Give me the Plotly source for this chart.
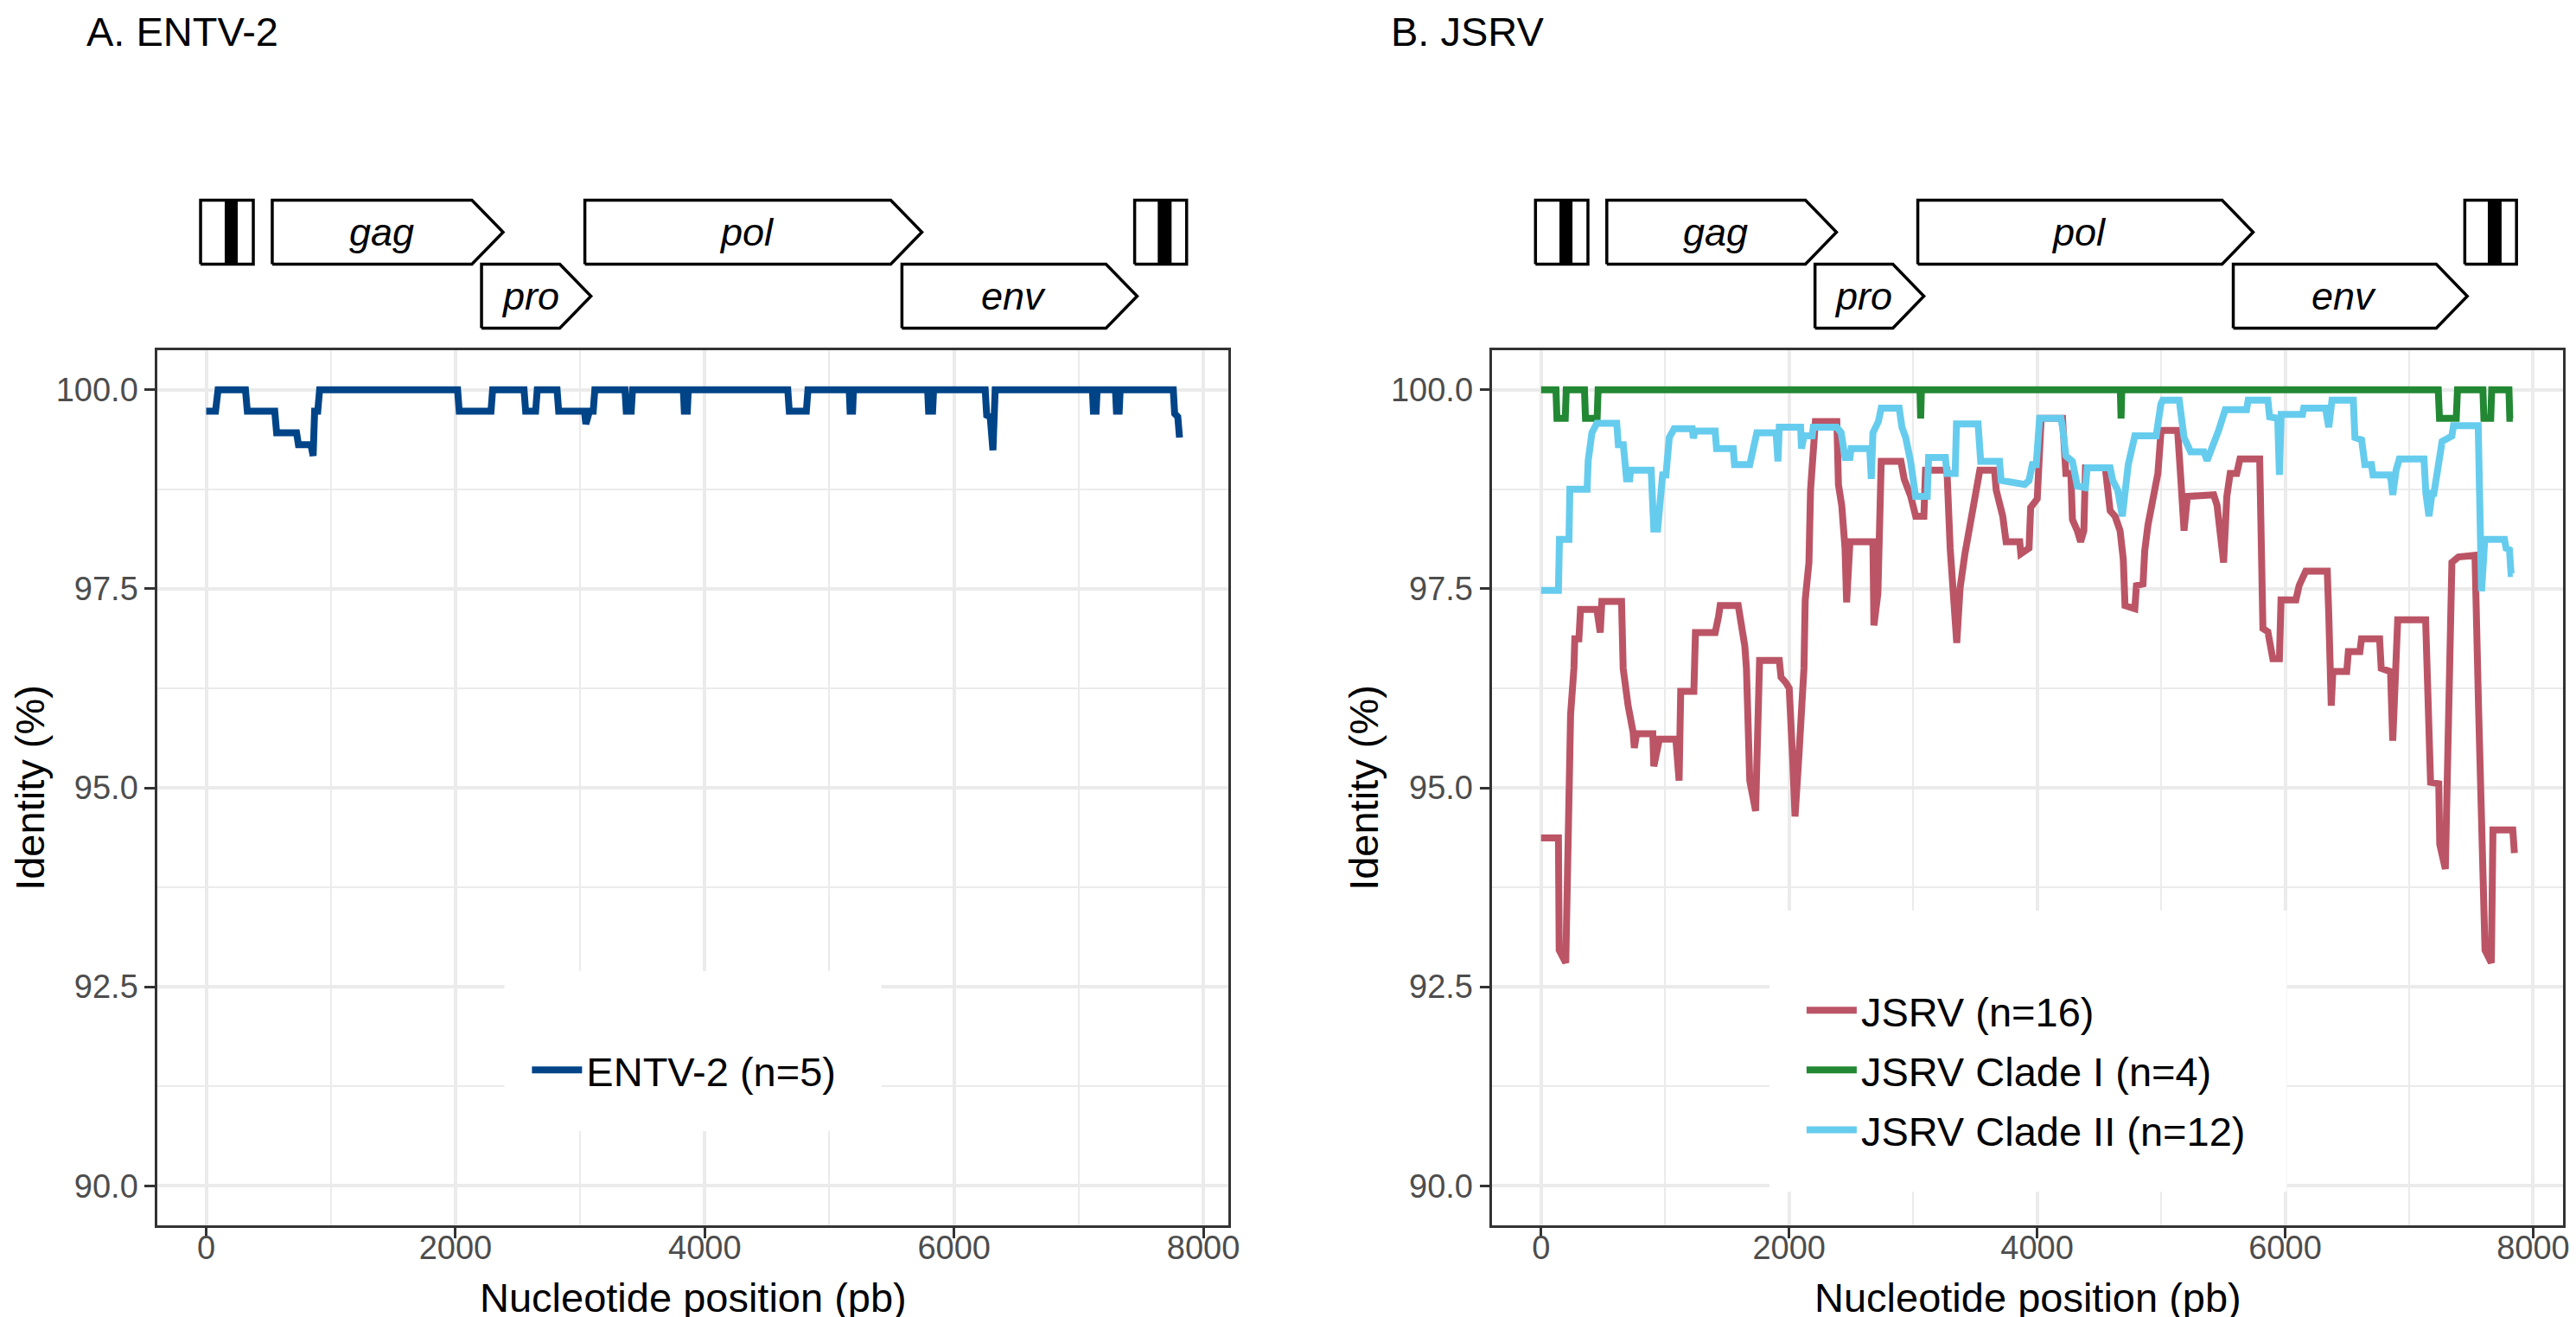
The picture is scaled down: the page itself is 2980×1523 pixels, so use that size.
import plotly.graph_objects as go

# ---- identity profiles (sliding window) ----
entv_x = [0, 75, 95, 315, 330, 550, 565, 725, 740, 840, 858, 870, 895, 910,
          2017, 2030, 2285, 2298, 2550, 2563, 2643, 2656, 2815, 2828, 3035, 3046,
          3075, 3105, 3118, 3360, 3370, 3410, 3420, 3828, 3836, 3860, 3868, 4666,
          4678, 4815, 4828, 5159, 5166, 5186, 5193, 5788, 5796, 5828, 5836, 6250,
          6262, 6290, 6312, 6330, 7110, 7118, 7140, 7148, 7295, 7303, 7325, 7333,
          7759, 7770, 7795, 7800, 7809]
entv_y = [99.73, 99.73, 100, 100, 99.73, 99.73, 99.46, 99.46, 99.31, 99.31, 99.17, 99.73, 99.73, 100,
          100, 99.73, 99.73, 100, 100, 99.73, 99.73, 100, 100, 99.73, 99.73, 99.57,
          99.73, 99.73, 100, 100, 99.73, 99.73, 100, 100, 99.73, 99.73, 100, 100,
          99.73, 99.73, 100, 100, 99.73, 99.73, 100, 100, 99.73, 99.73, 100, 100,
          99.68, 99.66, 99.24, 100, 100, 99.73, 99.73, 100, 100, 99.73, 99.73, 100,
          100, 99.70, 99.66, 99.42, 99.40]

jsrv_x = [0, 140, 146, 199, 220, 238, 265, 272, 305, 318, 450, 465, 477, 490, 649, 662,
          676, 702, 742, 752, 770, 901, 909, 941, 954, 1087, 1113, 1126, 1232, 1245,
          1404, 1431, 1444, 1590, 1603, 1643, 1656, 1683, 1730, 1750, 1762, 1921, 1935,
          1974, 2001, 2027, 2048, 2080, 2120, 2130, 2160, 2173, 2199, 2212, 2385, 2398,
          2425, 2451, 2464, 2480, 2491, 2676, 2684, 2716, 2743, 2902, 2928, 2981, 3021,
          3087, 3100, 3273, 3299, 3352, 3379, 3418, 3445, 3485, 3538, 3657, 3670, 3723,
          3750, 3860, 3869, 3935, 3948, 4001, 4020, 4033, 4205, 4215, 4232, 4272, 4285,
          4324, 4351, 4377, 4390, 4550, 4560, 4589, 4629, 4669, 4695, 4709, 4788, 4801,
          4854, 4868, 4894, 4974, 5000, 5133, 5159, 5185, 5212, 5424, 5451, 5480, 5504,
          5530, 5557, 5610, 5636, 5795, 5821, 5861, 5901, 5954, 5967, 6087, 6113, 6166,
          6340, 6352, 6372, 6385, 6497, 6510, 6603, 6616, 6762, 6775, 6850, 6868, 6885,
          6908, 7133, 7146, 7173, 7239, 7247, 7292, 7319, 7345, 7398, 7531, 7560, 7571,
          7590, 7612, 7663, 7676, 7836, 7849]
jsrv_y = [94.37, 94.37, 92.96, 92.80, 94.47, 95.92, 96.50, 96.87, 96.87, 97.24, 97.24, 96.95, 96.95, 97.34, 97.34, 96.50,
          96.32, 96.03, 95.70, 95.50, 95.68, 95.68, 95.27, 95.52, 95.61, 95.61, 95.09, 96.21, 96.21, 96.95,
          96.95, 97.15, 97.29, 97.29, 97.16, 96.78, 96.50, 95.09, 94.71, 96.00, 96.60, 96.60, 96.39,
          96.32, 96.25, 95.42, 94.64, 95.42, 96.50, 97.36, 97.83, 98.74, 99.46, 99.60, 99.60, 98.81,
          98.54, 98.01, 97.33, 98.00, 98.09, 98.09, 97.04, 97.44, 99.10, 99.10, 98.88, 98.66, 98.41,
          98.41, 98.99, 98.99, 98.01, 96.82, 97.51, 97.94, 98.19, 98.63, 98.99, 98.99, 98.74, 98.41,
          98.09, 98.09, 97.94, 98.01, 98.52, 98.63, 99.10, 99.64, 99.64, 99.46, 98.95, 98.95, 98.37,
          98.23, 98.09, 98.23, 99.02, 99.02, 98.88, 98.48, 98.41, 98.23, 97.87, 97.29, 97.25, 97.54,
          97.56, 97.98, 98.30, 98.95, 99.49, 99.49, 98.88, 98.23, 98.66, 98.68, 98.55, 98.20, 97.83,
          98.66, 98.95, 98.95, 99.13, 99.13, 97.00, 96.96, 96.62, 96.62, 97.36, 97.36, 97.54, 97.72,
          97.72, 97.18, 96.03, 96.46, 96.46, 96.71, 96.71, 96.87, 96.87, 96.50, 96.46, 95.59, 96.50,
          97.11, 97.11, 96.17, 95.07, 95.05, 94.29, 93.98, 96.00, 97.83, 97.90, 97.92, 96.00, 95.32,
          94.59, 92.96, 92.80, 94.47, 94.47, 94.18]

clade1_x = [0, 120, 128, 195, 203, 350, 358, 452, 460, 3055, 3061, 3067, 4671, 4677, 4683,
            7235, 7245, 7380, 7390, 7595, 7603, 7658, 7666, 7805, 7812, 7836]
clade1_y = [100, 100, 99.64, 99.64, 100, 100, 99.64, 99.64, 100, 100, 99.64, 100, 100, 99.64, 100,
            100, 99.64, 99.64, 100, 100, 99.64, 99.64, 100, 100, 99.64, 99.64]

clade2_x = [0, 140, 148, 225, 232, 371, 380, 410, 450, 610, 623, 663, 676, 689, 715, 722, 888,
            909, 940, 960, 980, 1007, 1034, 1073, 1219, 1228, 1240, 1404, 1415, 1550, 1560, 1683,
            1709, 1740, 1895, 1900, 1910, 1921, 2093, 2100, 2120, 2186, 2195, 2385, 2420, 2451,
            2491, 2500, 2650, 2663, 2676, 2720, 2743, 2888, 2910, 2940, 2980, 3020, 3114, 3125,
            3260, 3273, 3339, 3350, 3524, 3545, 3697, 3710, 3856, 3900, 3935, 3962, 3993, 4020,
            4192, 4205, 4232, 4285, 4324, 4390, 4404, 4589, 4610, 4650, 4687, 4709, 4735, 4788,
            4960, 4998, 5013, 5146, 5170, 5185, 5238, 5345, 5371, 5424, 5464, 5517, 5689, 5702,
            5861, 5875, 5940, 5954, 5968, 6140, 6150, 6325, 6340, 6352, 6378, 6550, 6563, 6617,
            6643, 6696, 6709, 6842, 6855, 6868, 6895, 6921, 7120, 7135, 7160, 7185, 7200, 7239,
            7266, 7345, 7358, 7557, 7584, 7610, 7769, 7782, 7809, 7822, 7836]
clade2_y = [97.48, 97.48, 98.12, 98.12, 98.75, 98.75, 99.11, 99.46, 99.58, 99.58, 99.31, 99.31, 99.10, 98.88, 98.88, 98.99, 98.99,
            98.25, 98.25, 98.60, 98.93, 98.93, 99.40, 99.51, 99.51, 99.39, 99.48, 99.48, 99.26, 99.26, 99.06, 99.06,
            99.21, 99.46, 99.46, 99.10, 99.10, 99.53, 99.53, 99.26, 99.42, 99.42, 99.53, 99.53, 99.46, 99.15,
            99.15, 99.26, 99.26, 98.88, 99.46, 99.60, 99.77, 99.77, 99.53, 99.40, 99.10, 98.66, 98.66, 99.15,
            99.15, 98.95, 98.95, 99.57, 99.57, 99.10, 99.10, 98.86, 98.83, 98.81, 98.86, 99.06, 99.06, 99.64,
            99.64, 99.53, 99.17, 99.10, 98.79, 98.77, 99.02, 99.02, 98.86, 98.74, 98.41, 98.77, 99.06, 99.42,
            99.42, 99.82, 99.87, 99.87, 99.51, 99.40, 99.22, 99.22, 99.11, 99.31, 99.49, 99.75, 99.75, 99.87,
            99.87, 99.66, 99.64, 98.93, 99.69, 99.69, 99.77, 99.77, 99.53, 99.53, 99.87, 99.87, 99.40, 99.37,
            99.06, 99.06, 98.93, 98.93, 98.86, 98.68, 98.99, 99.13, 99.13, 98.70, 98.41, 98.70, 98.70, 99.06,
            99.35, 99.42, 99.55, 99.55, 97.47, 98.12, 98.12, 98.01, 97.99, 97.69, 97.69]

# ---- genome map (bp) ----
gene_names = ["gag", "pro", "pol", "env"]
gene_start = [530, 2209, 3038, 5582]
gene_end = [2382, 3087, 5742, 7469]
gene_row = [2, 1, 2, 1]
ltr_start = [-45, 7449]
ltr_end = [378, 7866]
ltr_r_start = [152, 7638]
ltr_r_end = [250, 7742]
ARROW_LEN = 250

W, H = 2980, 1523
FONT = "Liberation Sans, Arial, sans-serif"
BIG = 47


def px(p):
    return p / W


def py(p):
    return 1 - p / H


def padded(xs):
    lo, hi = min(xs), max(xs)
    pad = 0.05 * (hi - lo)
    return [lo - pad, hi + pad]


def gene_map_traces(xa, ya):
    ox, oy, rx, ry = [], [], [], []
    for s, e, r in zip(gene_start, gene_end, gene_row):
        ox += [s, e - ARROW_LEN, e, e - ARROW_LEN, s, s, None]
        oy += [r - 0.5, r - 0.5, r, r + 0.5, r + 0.5, r - 0.5, None]
    for s, e, rs, re in zip(ltr_start, ltr_end, ltr_r_start, ltr_r_end):
        ox += [s, e, e, s, s, None]
        oy += [1.5, 1.5, 2.5, 2.5, 1.5, None]
        rx += [rs, re, re, rs, rs, None]
        ry += [1.5, 1.5, 2.5, 2.5, 1.5, None]
    outline = go.Scatter(x=ox, y=oy, mode="lines", fill="toself", fillcolor="white",
                         line=dict(color="black", width=3.5), xaxis=xa, yaxis=ya,
                         showlegend=False, hoverinfo="skip")
    rbar = go.Scatter(x=rx, y=ry, mode="lines", fill="toself", fillcolor="black",
                      line=dict(color="black", width=1), xaxis=xa, yaxis=ya,
                      showlegend=False, hoverinfo="skip")
    return [outline, rbar]


fig = go.Figure()

fig.add_trace(go.Scatter(x=entv_x, y=entv_y, mode="lines", name="ENTV-2 (n=5)",
                         line=dict(color="#004488", width=8), legend="legend",
                         xaxis="x", yaxis="y"))

right_series = [
    ("JSRV (n=16)", jsrv_x, jsrv_y, "#BB5566"),
    ("JSRV Clade I (n=4)", clade1_x, clade1_y, "#228833"),
    ("JSRV Clade II (n=12)", clade2_x, clade2_y, "#66CCEE"),
]
for name, xs, ys, col in right_series:
    fig.add_trace(go.Scatter(x=xs, y=ys, mode="lines", name=name, legendgroup=name,
                             line=dict(color=col, width=8), legend="legend2",
                             xaxis="x2", yaxis="y2"))

for t in gene_map_traces("x3", "y3") + gene_map_traces("x4", "y4"):
    fig.add_trace(t)

left_range = padded(entv_x)
right_range = padded(jsrv_x + clade1_x + clade2_x)

x_common = dict(dtick=2000, tick0=0, showgrid=True, gridcolor="#EBEBEB", gridwidth=3.5,
                minor=dict(dtick=1000, showgrid=True, gridcolor="#EBEBEB", gridwidth=1.8),
                zeroline=False, showline=True, linecolor="#333333", linewidth=2.7, mirror=True,
                ticks="outside", ticklen=12, tickwidth=2.7, tickcolor="#333333",
                ticklabelstandoff=-22,
                tickfont=dict(size=38, color="#4D4D4D", family=FONT))
y_common = dict(range=[89.5, 100.5], dtick=2.5, tick0=90, tickformat=".1f", showgrid=True,
                gridcolor="#EBEBEB", gridwidth=3.5,
                minor=dict(dtick=1.25, showgrid=True, gridcolor="#EBEBEB", gridwidth=1.8),
                zeroline=False, showline=True, linecolor="#333333", linewidth=2.7, mirror=True,
                ticks="outside", ticklen=12, tickwidth=2.7, tickcolor="#333333",
                tickfont=dict(size=38, color="#4D4D4D", family=FONT),
                title=dict(text="Identity (%)", font=dict(size=BIG, color="black", family=FONT),
                           standoff=0),
                domain=[py(1409.3), py(396.7)])
gene_y = dict(range=[0.4, 2.6], visible=False, domain=[py(379), py(216)], fixedrange=True)

left_dom = [px(175), px(1419)]
right_dom = [px(1726), px(2970)]

legend_common = dict(xanchor="left", yanchor="top", bgcolor="white", itemwidth=58,
                     font=dict(size=BIG, color="black", family=FONT),
                     title=dict(text=" ", font=dict(size=44)))

fig.update_layout(
    width=W, height=H,
    margin=dict(l=0, r=0, t=0, b=0),
    paper_bgcolor="white", plot_bgcolor="white",
    font=dict(family=FONT, color="black"),
    xaxis=dict(domain=left_dom, range=left_range, anchor="y", **x_common),
    yaxis=dict(anchor="x", **y_common),
    xaxis2=dict(domain=right_dom, range=right_range, anchor="y2", **x_common),
    yaxis2=dict(anchor="x2", **y_common),
    xaxis3=dict(domain=left_dom, range=left_range, anchor="y3", visible=False),
    yaxis3=dict(anchor="x3", **gene_y),
    xaxis4=dict(domain=right_dom, range=right_range, anchor="y4", visible=False),
    yaxis4=dict(anchor="x4", **gene_y),
    legend=dict(x=px(605), y=py(1135), **legend_common),
    legend2=dict(x=px(2086), y=py(1066), tracegroupgap=5, **legend_common),
    showlegend=True,
)

# white legend backgrounds as in the original (they hide the grid)
for x0, x1, y0, y1 in [(578, 1016, 1115, 1300), (2048, 2649, 1045, 1370)]:
    fig.add_shape(type="rect", xref="paper", yref="paper", x0=px(x0), x1=px(x1),
                  y0=py(y1), y1=py(y0), fillcolor="white", line=dict(width=0), layer="above")

# x-axis titles
for dom in [left_dom, right_dom]:
    fig.add_annotation(x=(dom[0] + dom[1]) / 2, y=py(1521), xref="paper", yref="paper",
                       xanchor="center", yanchor="bottom", text="Nucleotide position (pb)",
                       showarrow=False, font=dict(size=BIG, color="black", family=FONT))

# gene labels
for ax in ["3", "4"]:
    for name, s, e, r in zip(gene_names, gene_start, gene_end, gene_row):
        fig.add_annotation(x=(s + e) / 2 - 0.2 * ARROW_LEN, y=r, xref="x" + ax, yref="y" + ax,
                           text="<i>" + name + "</i>", showarrow=False,
                           font=dict(size=45, color="black", family=FONT))

# panel titles
for x0, label in [(90, "A. ENTV-2"), (1606, "B. JSRV")]:
    fig.add_annotation(x=px(x0), y=1, xref="paper", yref="paper", xanchor="left", yanchor="top",
                       text=label, showarrow=False, font=dict(size=BIG, color="black", family=FONT))

fig.write_html("out.html")
